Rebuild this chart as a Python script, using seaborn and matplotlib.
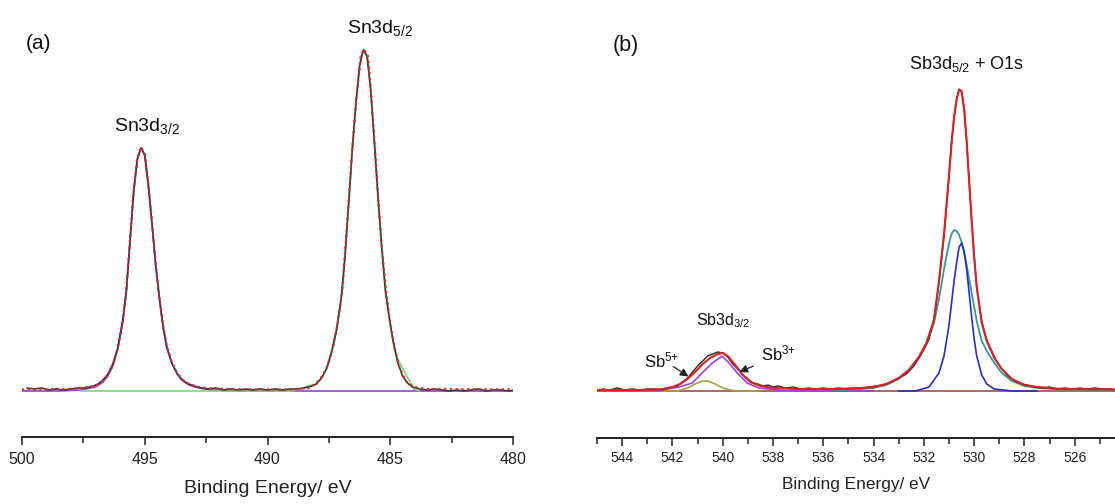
import matplotlib
matplotlib.use("Agg")
import matplotlib.pyplot as plt
from matplotlib.ticker import MultipleLocator
import seaborn as sns

# ---------------- Panel (a): Sn 3d ----------------
a_data_energy = [499.8, 499.5, 499.2, 498.9, 498.6, 498.3, 498.0, 497.7, 497.4, 497.1, 496.9, 496.7, 496.5,
                 496.3, 496.1, 495.9, 495.75, 495.6, 495.45, 495.3, 495.15, 495.0, 494.85, 494.7, 494.55,
                 494.4, 494.25, 494.1, 493.9, 493.7, 493.5, 493.3, 493.0, 492.7, 492.4, 492.1, 491.8,
                 491.5, 491.2, 490.9, 490.6, 490.3, 490.0, 489.7, 489.4, 489.1, 488.8, 488.5, 488.2,
                 488.0, 487.8, 487.6, 487.4, 487.2, 487.0, 486.85, 486.7, 486.55, 486.4, 486.25, 486.1,
                 485.95, 485.8, 485.65, 485.5, 485.35, 485.2, 485.05, 484.9, 484.7, 484.5, 484.3, 484.1,
                 483.8, 483.5, 483.2, 482.9, 482.6, 482.3, 482.0, 481.7, 481.4, 481.1, 480.8, 480.5,
                 480.2, 479.9, 479.6, 479.2]
a_data_int = [3, 2, 3, 1, 2, 1, 2, 3, 3, 5, 7, 11, 17,
              27, 43, 70, 100, 150, 200, 232, 243, 236, 205, 166, 125,
              92, 63, 43, 28, 18, 12, 8, 5, 3, 2, 3, 1,
              2, 1, 2, 1, 2, 1, 2, 1, 2, 2, 3, 5,
              7, 13, 22, 38, 60, 92, 132, 185, 240, 288, 325, 341,
              335, 302, 250, 195, 145, 100, 75, 52, 29, 15, 8, 4,
              2, 1, 2, 1, 0, 1, 0, 1, 2, 0, 1, 1,
              0, 1, 1, 2]

a_fit_energy = [500.0, 498.0, 497.0, 496.7, 496.5, 496.3, 496.1, 495.9, 495.75, 495.6, 495.45, 495.3,
                495.15, 495.0, 494.85, 494.7, 494.55, 494.4, 494.25, 494.1, 493.9, 493.7, 493.5,
                493.2, 492.8, 492.3, 491.0, 489.0, 488.3, 488.04, 487.77, 487.56, 487.32, 487.13,
                486.95, 486.82, 486.68, 486.54, 486.37, 486.2, 486.07, 485.91, 485.77, 485.63,
                485.5, 485.35, 485.18, 485.01, 484.84, 484.64, 484.37, 484.03, 483.5, 479.0]
a_fit_int = [1.5, 2, 5, 10, 16, 26, 43, 69, 101, 151, 201, 233,
             244, 237, 206, 167, 126, 93, 65, 45, 29, 19, 12,
             7, 4, 2.5, 1.5, 1.5, 3, 7, 15, 25, 45, 69,
             102, 145, 195, 245, 295, 335, 342, 335, 295, 245,
             195, 145, 102, 69, 45, 25, 10, 4, 2, 1.5]

sn32_energy = [500.0, 498.5, 497.6, 497.0, 496.7, 496.5, 496.3, 496.1, 495.9, 495.75, 495.6, 495.45,
               495.3, 495.15, 495.0, 494.85, 494.7, 494.55, 494.4, 494.25, 494.1, 493.9, 493.7,
               493.5, 493.2, 492.8, 492.3, 491.5, 479.0]
sn32_int = [0, 0, 1, 4, 9, 15, 25, 42, 68, 100, 150, 200,
            232, 243, 236, 205, 166, 125, 92, 64, 44, 28, 18,
            11, 6, 3, 1, 0, 0]

sn52_energy = [497.6, 489.0, 488.04, 487.77, 487.56, 487.32, 487.13, 486.95, 486.82, 486.68, 486.54,
               486.37, 486.2, 486.07, 485.91, 485.77, 485.63, 485.5, 485.35, 485.18, 485.01, 484.84,
               484.76, 484.04, 483.82]
sn52_int = [0, 0, 7, 14, 24, 44, 68, 101, 144, 194, 244,
            294, 334, 341, 334, 294, 244, 194, 144, 101, 68, 44,
            35, 2, 0]

a_ticks = [500, 495, 490, 485, 480]
a_tick_labels = ["500", "495", "490", "485", "480"]

# ---------------- Panel (b): Sb 3d + O 1s ----------------
b_data_energy = [544.8, 544.5, 544.2, 543.9, 543.6, 543.3, 543.0, 542.7, 542.4, 542.2, 542.0, 541.8,
                 541.6, 541.4, 541.2, 541.0, 540.8, 540.6, 540.4, 540.2, 540.0, 539.8, 539.6, 539.4,
                 539.2, 539.0, 538.8, 538.6, 538.4, 538.2, 538.0, 537.8, 537.5, 537.2, 536.9, 536.6,
                 536.3, 536.0, 535.7, 535.4, 535.1, 534.8, 534.5, 534.2, 533.9, 533.6, 533.3, 533.0,
                 532.7, 532.4, 532.1, 531.8, 531.6, 531.4, 531.2, 531.0, 530.9, 530.8, 530.7, 530.6,
                 530.5, 530.4, 530.3, 530.2, 530.1, 530.0, 529.9, 529.7, 529.5, 529.3, 529.1, 528.9,
                 528.7, 528.5, 528.3, 528.1, 527.9, 527.6, 527.3, 527.0, 526.7, 526.4, 526.1, 525.8,
                 525.5, 525.2, 524.9, 524.5]
b_data_int = [2, 1, 3, 1, 2, 1, 2, 2, 1, 3, 4, 5,
              9, 13, 19, 25, 30, 35, 37, 39, 38, 34, 27, 22,
              16, 12, 8, 7, 5, 6, 4, 5, 3, 4, 2, 3,
              2, 3, 2, 3, 2, 3, 3, 4, 5, 6, 9, 13,
              17, 25, 37, 52, 72, 108, 155, 215, 249, 273, 292, 302,
              299, 283, 250, 208, 171, 135, 104, 70, 51, 40, 29, 22,
              16, 12, 9, 7, 6, 4, 3, 4, 2, 3, 2, 3,
              2, 3, 2, 2]

b_fit_energy = [545.0, 543.0, 542.4, 542.0, 541.7, 541.4, 541.1, 540.8, 540.5, 540.2, 540.0, 539.8,
                539.5, 539.2, 538.9, 538.5, 538.0, 537.0, 535.5, 534.5, 534.0, 533.5, 533.0, 532.6,
                532.2, 531.9, 531.6, 531.4, 531.2, 531.0, 530.9, 530.8, 530.7, 530.6, 530.5, 530.4,
                530.3, 530.2, 530.1, 530.0, 529.9, 529.7, 529.5, 529.2, 528.9, 528.5, 528.0, 527.5,
                526.5, 524.4]
b_fit_int = [1, 1, 2, 4, 7, 12, 19, 27, 33, 37, 38, 35,
             26, 16, 9, 5, 3, 2, 2, 3, 4, 7, 13, 21,
             34, 48, 71, 110, 157, 216, 248, 274, 291, 301, 300, 282,
             250, 210, 170, 134, 104, 68, 50, 33, 22, 12, 6, 4,
             2, 1.5]

sb3_energy = [545.0, 543.5, 542.4, 541.74, 541.21, 540.82, 540.42, 540.02, 539.75, 539.42, 539.03,
              538.56, 537.6, 536.0, 534.0]
sb3_int = [0.5, 0.5, 1, 4, 8, 18, 28, 35, 28, 18, 8, 3, 0.5, 0, 0]

sb5_energy = [542.5, 541.8, 541.4, 541.1, 540.8, 540.6, 540.3, 540.0, 539.7, 539.4, 538.5]
sb5_int = [0, 0, 3, 7, 10, 10, 7, 3, 1, 0, 0]

o1s_energy = [535.5, 534.5, 534.0, 533.5, 533.0, 532.6, 532.2, 531.9, 531.6, 531.4, 531.2, 531.0,
              530.9, 530.8, 530.7, 530.6, 530.5, 530.4, 530.3, 530.2, 530.1, 530.0, 529.9, 529.7,
              529.5, 529.2, 528.9, 528.5, 528.0, 527.5, 526.5, 524.4]
o1s_int = [1, 2, 3, 6, 12, 20, 33, 46, 68, 92, 122, 148,
           157, 161, 160, 156, 149, 138, 126, 112, 98, 84, 70, 50,
           40, 28, 18, 10, 5, 3, 1.5, 1]

sb52_energy = [533.0, 532.33, 531.8, 531.4, 531.2, 531.0, 530.9, 530.8, 530.7, 530.6, 530.5, 530.4,
               530.3, 530.2, 530.1, 530.0, 529.9, 529.7, 529.5, 529.2, 528.48, 527.5]
sb52_int = [0, 0, 4, 18, 35, 66, 88, 110, 128, 144, 148, 140,
            122, 98, 74, 52, 35, 16, 7, 2, 0, 0]

b_base_energy = [545.0, 524.4]
b_base_int = [0, 0]

b_ticks = [544, 542, 540, 538, 536, 534, 532, 530, 528, 526]
b_tick_labels = [str(t) for t in b_ticks]

# ---------------- Styling ----------------
sns.set_style("ticks")
plt.rcParams["font.family"] = ["Liberation Sans", "DejaVu Sans"]
plt.rcParams["mathtext.default"] = "regular"

fig = plt.figure(figsize=(11.15, 5.04), dpi=100)
ax_a = fig.add_axes([22 / 1115, 67 / 504, 491 / 1115, 422 / 504])
ax_b = fig.add_axes([597 / 1115, 66.5 / 504, 518 / 1115, 422 / 504])

def line(ax, x, y, color, lw=1.0, ls="-", z=2):
    sns.lineplot(x=x, y=y, ax=ax, color=color, lw=lw, linestyle=ls,
                 sort=False, estimator=None, legend=False, zorder=z)

# Panel (a)
line(ax_a, sn32_energy, sn32_int, "#9a3ee0", lw=1.2, z=2)
line(ax_a, sn52_energy, sn52_int, "#6fe06f", lw=1.2, z=3)
line(ax_a, a_data_energy, a_data_int, "#3a3a3a", lw=1.2, z=4)
line(ax_a, a_fit_energy, a_fit_int, "#e3262a", lw=1.6, ls=(0, (1, 1.6)), z=5)

ax_a.set_xlim(500, 480)
ax_a.set_ylim(-46, 376)
ax_a.set_xticks(a_ticks)
ax_a.set_xticklabels(a_tick_labels)
ax_a.xaxis.set_minor_locator(MultipleLocator(2.5))
ax_a.tick_params(axis="x", which="major", direction="out", length=6, width=1.1,
                 labelsize=11.5, pad=5, color="#222222", labelcolor="#222222")
ax_a.tick_params(axis="x", which="minor", direction="out", length=4, width=1.1, color="#222222")
ax_a.set_xlabel("Binding Energy/ eV", fontsize=14, labelpad=9, color="#222222")
ax_a.text(496.25, 260, r"Sn3d$_{3/2}$", fontsize=14, ha="left", va="baseline", color="#111111")
ax_a.text(486.75, 358, r"Sn3d$_{5/2}$", fontsize=14, ha="left", va="baseline", color="#111111")
ax_a.text(0.008, 0.92, "(a)", transform=ax_a.transAxes, fontsize=15, color="#111111")

# Panel (b)
line(ax_b, b_base_energy, b_base_int, "#a84a4a", lw=1.2, z=2)
line(ax_b, sb3_energy, sb3_int, "#a23ee8", lw=1.2, z=3)
line(ax_b, sb5_energy, sb5_int, "#a8a040", lw=1.2, z=3)
line(ax_b, o1s_energy, o1s_int, "#2e9b95", lw=1.3, z=3)
line(ax_b, sb52_energy, sb52_int, "#2a2ad4", lw=1.2, z=3)
line(ax_b, b_data_energy, b_data_int, "#2a2a2a", lw=1.0, z=4)
line(ax_b, b_fit_energy, b_fit_int, "#e02020", lw=1.5, z=5)

ax_b.set_xlim(545, 524.4)
ax_b.set_ylim(-46.5, 375.5)
ax_b.set_xticks(b_ticks)
ax_b.set_xticklabels(b_tick_labels)
ax_b.xaxis.set_minor_locator(MultipleLocator(1))
ax_b.tick_params(axis="x", which="major", direction="out", length=6, width=1.1,
                 labelsize=10, pad=4, color="#222222", labelcolor="#222222")
ax_b.tick_params(axis="x", which="minor", direction="out", length=4, width=1.1, color="#222222")
ax_b.set_xlabel("Binding Energy/ eV", fontsize=12.4, labelpad=8, color="#222222")
ax_b.text(532.59, 322, r"Sb3d$_{5/2}$ + O1s", fontsize=13, ha="left", va="baseline", color="#111111")
ax_b.text(541.07, 66, r"Sb3d$_{3/2}$", fontsize=11.5, ha="left", va="baseline", color="#111111")
ax_b.text(543.14, 24, r"Sb$^{5{+}}$", fontsize=12, ha="left", va="baseline", color="#111111")
ax_b.text(538.49, 31, r"Sb$^{3{+}}$", fontsize=12, ha="left", va="baseline", color="#111111")
ax_b.annotate("", xy=(541.27, 13), xytext=(542.06, 26),
              arrowprops=dict(arrowstyle="-|>", color="#222222", lw=0.9, mutation_scale=12), zorder=6)
ax_b.annotate("", xy=(539.44, 18), xytext=(538.68, 26),
              arrowprops=dict(arrowstyle="-|>", color="#222222", lw=0.9, mutation_scale=12), zorder=6)
ax_b.text(0.03, 0.915, "(b)", transform=ax_b.transAxes, fontsize=15.5, color="#111111")

for ax in (ax_a, ax_b):
    ax.set_yticks([])
    ax.set_ylabel("")
    for s in ("left", "right", "top"):
        ax.spines[s].set_visible(False)
    ax.spines["bottom"].set_linewidth(1.4)
    ax.spines["bottom"].set_color("#222222")
    ax.patch.set_alpha(0)

fig.savefig("out.png", dpi=100)
